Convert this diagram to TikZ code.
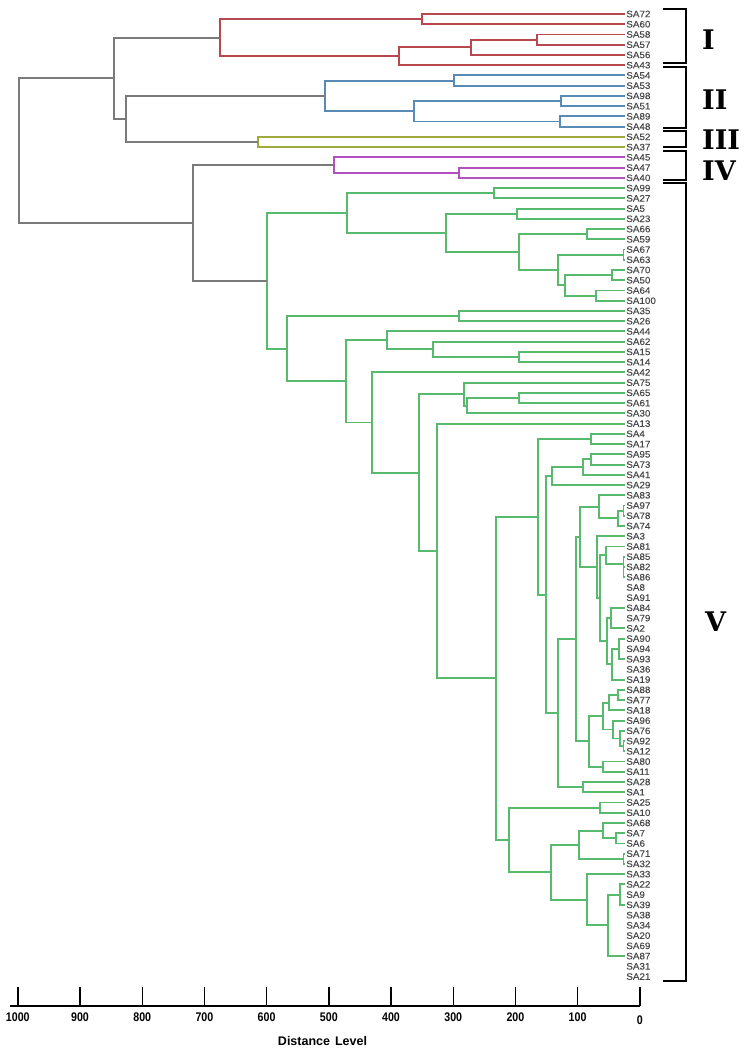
\documentclass[tikz,border=0pt]{standalone}
\usepackage{fontspec}
\setmainfont{Liberation Sans}
\newfontfamily\leaffont[FakeStretch=1.06,FakeBold=0.3]{Liberation Sans}
\newfontfamily\axisfont[FakeStretch=0.85]{Liberation Sans}
\newfontfamily\grpfont{DejaVu Serif}
\usetikzlibrary{calc}
\usepackage{xcolor}
\definecolor{redc}{RGB}{182,72,78}
\definecolor{bluec}{RGB}{88,140,182}
\definecolor{olivec}{RGB}{158,170,62}
\definecolor{magc}{RGB}{178,80,190}
\definecolor{grnc}{RGB}{88,186,108}
\definecolor{grayc}{RGB}{122,122,122}
\definecolor{labelc}{RGB}{72,72,72}

% cluster: name, distance x, upper child, lower child, colour
\newcommand{\clus}[5]{%
  \path ($(#3)!0.5!(#4)$) coordinate (#1-m);
  \coordinate (#1) at (#1-m -| #2,0);
  \draw[lnk,#5] (#3) -| (#1) |- (#4);}

\begin{document}
\begin{tikzpicture}[x=1pt, y=-1pt,
  leaf/.style={anchor=west, inner xsep=1.8pt, inner ysep=0pt, outer sep=0pt,
    font={\leaffont\fontsize{9.3}{9.5}\selectfont}, text=labelc},
  grp/.style={anchor=west, inner sep=0pt, font={\grpfont\bfseries\fontsize{27}{27}\selectfont}},
  brk/.style={line width=2.3pt},
  lnk/.style={line width=1.9pt},
  tick/.style={font={\axisfont\bfseries\fontsize{12.5}{13}\selectfont}}]
  \useasboundingbox (0,0) rectangle (744,1051);

  \foreach \lbl [count=\i from 0] in {SA72,SA60,SA58,SA57,SA56,SA43,SA54,SA53,SA98,SA51,
    SA89,SA48,SA52,SA37,SA45,SA47,SA40,SA99,SA27,SA5,SA23,SA66,SA59,SA67,SA63,SA70,SA50,
    SA64,SA100,SA35,SA26,SA44,SA62,SA15,SA14,SA42,SA75,SA65,SA61,SA30,SA13,SA4,SA17,SA95,
    SA73,SA41,SA29,SA83,SA97,SA78,SA74,SA3,SA81,SA85,SA82,SA86,SA8,SA91,SA84,SA79,SA2,
    SA90,SA94,SA93,SA36,SA19,SA88,SA77,SA18,SA96,SA76,SA92,SA12,SA80,SA11,SA28,SA1,SA25,
    SA10,SA68,SA7,SA6,SA71,SA32,SA33,SA22,SA9,SA39,SA38,SA34,SA20,SA69,SA87,SA31,SA21}
    \node[leaf] (\lbl) at (624.5,{14+10.24*\i}) {\lbl};

  \foreach \nm/\px/\ca/\cb in {a1/422.3/SA72/SA60, a2/536.7/SA58/SA57, a3/471/a2/SA56,
    a4/399.3/a3/SA43, cI/220/a1/a4}
    {\clus{\nm}{\px}{\ca}{\cb}{redc}}
  \foreach \nm/\px/\ca/\cb in {b1/454/SA54/SA53, b2/560.7/SA98/SA51, b3/559.7/SA89/SA48,
    b4/414.3/b2/b3, cII/325/b1/b4}
    {\clus{\nm}{\px}{\ca}{\cb}{bluec}}
  \clus{cIII}{257.7}{SA52}{SA37}{olivec}
  \foreach \nm/\px/\ca/\cb in {c1/459/SA47/SA40, cIV/333.7/SA45/c1}
    {\clus{\nm}{\px}{\ca}{\cb}{magc}}

  \foreach \nm/\px/\ca/\cb in {v11/494.3/SA99/SA27, v121/516.7/SA5/SA23,
    v1221/586.7/SA66/SA59, z1/623.5/SA67/SA63, w1/612/SA70/SA50, w2/596/SA64/SA100,
    w3/565/w1/w2, w4/558.3/z1/w3, v122/519/v1221/w4, v12/446/v121/v122, v1/347.3/v11/v12,
    v21/459.3/SA35/SA26, x1/519.3/SA15/SA14, x2/433.3/SA62/x1, x3/386.7/SA44/x2,
    d1/519.3/SA65/SA61, d2/467.3/d1/SA30, d3/464/SA75/d2,
    s1/590.7/SA4/SA17, t0/591.3/SA95/SA73, t1/583.3/t0/SA41, t2/551.7/t1/SA29,
    h1/623.5/SA97/SA78, h2/618.3/h1/SA74, g1/599/SA83/h2,
    k00/623.5/SA82/SA86, k0/623.5/SA85/k00, k1/605.7/SA81/k0, k31/610.7/SA84/SA2,
    k321/619.3/SA90/SA93, k32/611.7/k321/SA19, k3/606.7/k31/k32, k2/600/k1/k3,
    g2/596.7/SA3/k2, g/580/g1/g2,
    n1/618.3/SA88/SA77, n2/609.3/n1/SA18, n3/623.5/SA92/SA12, n4/620/SA76/n3,
    n5/613.3/SA96/n4, n6/602.7/n2/n5, n7/602.7/SA80/SA11, n8/589.3/n6/n7,
    m/576/g/n8, p1/582.7/SA28/SA1, p/557.7/m/p1, f1b/546/t2/p, f1/538.3/s1/f1b,
    q1/600/SA25/SA10, r1/615.7/SA7/SA6, r2/603.3/SA68/r1, r3/623.5/SA71/SA32,
    r4/579.3/r2/r3, r5/620/SA22/SA39, r6/608.3/r5/SA87, r7/587.3/SA33/r6,
    r8/550.7/r4/r7, f2/509.3/q1/r8, f/496/f1/f2,
    e1/436.7/SA13/f, e2/419.3/d3/e1, v222/372/SA42/e2, v22/346/x3/v222,
    v2/287.3/v21/v22, cV/267.3/v1/v2}
    {\clus{\nm}{\px}{\ca}{\cb}{grnc}}

  \foreach \nm/\px/\ca/\cb in {g12/125.7/cII/cIII, gA/114.3/cI/g12, gB/193.3/cIV/cV,
    root/19.3/gA/gB}
    {\clus{\nm}{\px}{\ca}{\cb}{grayc}}

  \foreach \ya/\yb/\lbl/\xl/\yl in {9.3/63/I/702/40, 67/128/II/702/100,
    131/147/III/702/139.5, 151/180/IV/702/171, 183/981/V/705/622}{
    \draw[brk] (663,\ya) -| (686,\yb) -- (663,\yb);
    \node[grp] (grp\lbl) at (\xl,\yl) {\lbl};
  }

  \draw[line width=1.4pt] (10,1006) -- (640,1006);
  \foreach \d in {0,100,...,1000}{
    \draw[line width=1.4pt] ({639.8-0.622*\d},987) -- ({639.8-0.622*\d},1006);
  }
  \foreach \d in {100,200,...,1000}
    \node[tick] (t\d) at ({639.8-0.622*\d},1017.2) {\d};
  \node[tick] (t0) at (639.8,1020.5) {0};
  \node[font={\bfseries\fontsize{12.5}{13}\selectfont}] (dist) at (322.5,1041) {Distance\hspace{1.5pt} Level};
\end{tikzpicture}
\end{document}
